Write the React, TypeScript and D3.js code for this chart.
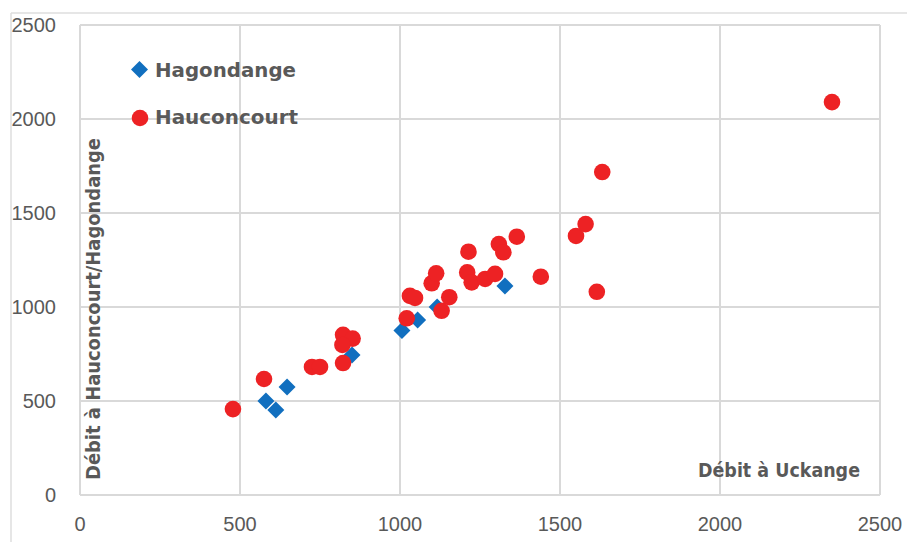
import React from "react";
import * as d3 from "d3";

const tickValues = [0, 500, 1000, 1500, 2000, 2500];

const hagX = [581, 612, 647, 850, 1006, 1055, 1116, 1328];
const hagY = [500, 452, 574, 745, 875, 931, 1000, 1112];

const hauX = [478, 575, 725, 750, 822, 822, 852, 820, 1021, 1031, 1047, 1099, 1113, 1130, 1154, 1214, 1210, 1224, 1266, 1297, 1309, 1323, 1365, 1440, 1550, 1580, 1632, 1615, 2350];
const hauY = [457, 617, 681, 681, 702, 852, 832, 798, 940, 1059, 1048, 1126, 1179, 980, 1052, 1294, 1184, 1131, 1149, 1176, 1335, 1291, 1374, 1161, 1378, 1441, 1718, 1081, 2090];

const seriesNames = ["Hagondange", "Hauconcourt"];
const xTitle = "Débit à Uckange";
const yTitle = "Débit à Hauconcourt/Hagondange";

const BLUE = "#116FBF";
const RED = "#ED2224";
const GRID = "#D9D9D9";
const TEXT = "#595959";

export default function App() {
  const W = 907, H = 542;
  const x = d3.scaleLinear().domain([0, 2500]).range([80, 880]);
  const y = d3.scaleLinear().domain([0, 2500]).range([495, 25]);
  const diamond = (s: number) => `M0,${-s}L${s},0L0,${s}L${-s},0Z`;
  const hag = hagX.map((v, i) => [v, hagY[i]]);
  const hau = hauX.map((v, i) => [v, hauY[i]]);
  return (
    <svg width={W} height={H} style={{ position: "absolute", left: 0, top: 0, background: "#fff" }}>
      <rect x={0} y={0} width={W} height={H} fill="#fff" />
      <line x1={11} y1={13} x2={W} y2={13} stroke="#DEDEDE" strokeWidth={1.5} />
      <line x1={11} y1={13} x2={11} y2={H} stroke="#DEDEDE" strokeWidth={1.5} />
      {tickValues.map((t) => (
        <line key={"gx" + t} x1={x(t)} x2={x(t)} y1={y(0)} y2={y(2500)} stroke={GRID} strokeWidth={2} />
      ))}
      {tickValues.map((t) => (
        <line key={"gy" + t} x1={x(0)} x2={x(2500)} y1={y(t)} y2={y(t)} stroke={GRID} strokeWidth={2} />
      ))}
      {tickValues.map((t) => (
        <text key={"tx" + t} x={x(t)} y={531} textAnchor="middle" fontFamily="Liberation Sans, Arial, sans-serif" fontSize={20} fill={TEXT}>{t}</text>
      ))}
      {tickValues.map((t) => (
        <text key={"ty" + t} x={56} y={y(t) + 7} textAnchor="end" fontFamily="Liberation Sans, Arial, sans-serif" fontSize={20} fill={TEXT}>{t}</text>
      ))}
      {hag.map(([a, b], i) => (
        <path key={"h" + i} d={diamond(8.5)} transform={`translate(${x(a)},${y(b)})`} fill={BLUE} />
      ))}
      {hau.map(([a, b], i) => (
        <circle key={"c" + i} cx={x(a)} cy={y(b)} r={8.3} fill={RED} />
      ))}
      <text x={860} y={477} textAnchor="end" fontFamily="DejaVu Sans, sans-serif" fontWeight="bold" fontSize={20} fill={TEXT} textLength={162} lengthAdjust="spacingAndGlyphs">{xTitle}</text>
      <text transform="translate(100,480) rotate(-90)" x={0} y={0} fontFamily="DejaVu Sans, sans-serif" fontWeight="bold" fontSize={20} fill={TEXT} textLength={342} lengthAdjust="spacingAndGlyphs">{yTitle}</text>
      <path d={diamond(8.5)} transform="translate(139.5,69.5)" fill={BLUE} />
      <text x={155} y={77} fontFamily="DejaVu Sans, sans-serif" fontWeight="bold" fontSize={20} fill={TEXT} textLength={141} lengthAdjust="spacingAndGlyphs">{seriesNames[0]}</text>
      <circle cx={140} cy={118} r={8.3} fill={RED} />
      <text x={155} y={124} fontFamily="DejaVu Sans, sans-serif" fontWeight="bold" fontSize={20} fill={TEXT} textLength={143} lengthAdjust="spacingAndGlyphs">{seriesNames[1]}</text>
    </svg>
  );
}
